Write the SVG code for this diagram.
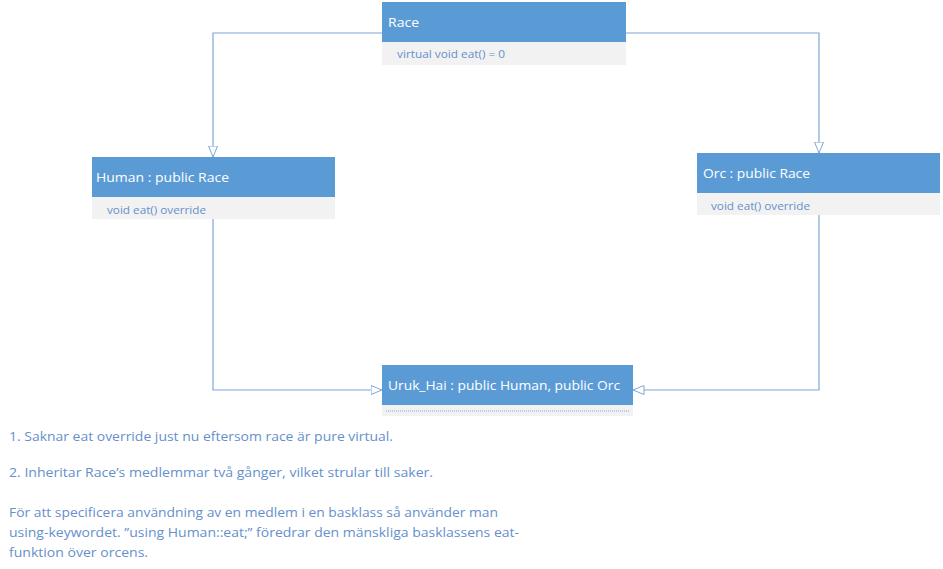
<svg xmlns="http://www.w3.org/2000/svg" width="943" height="569" viewBox="0 0 943 569">
<style>
.hdr{fill:#5b9bd5}
.body{fill:#f2f2f2}
.ht{font-family:"Open Sans","Noto Sans",sans-serif;font-size:13.5px;fill:#ffffff}
.bt{font-family:"Open Sans","Noto Sans",sans-serif;font-size:10.5px;fill:#6590cc}
.nt{font-family:"Open Sans","Noto Sans",sans-serif;font-size:13px;fill:#6590cc}
.conn{fill:none;stroke:#7fa6d8;stroke-width:1.2}
</style>
<defs>
<marker id="tri" viewBox="0 0 12 10" refX="11.5" refY="5" markerWidth="12" markerHeight="10" markerUnits="userSpaceOnUse" orient="auto">
<path d="M0.5,0.5 L11.5,5 L0.5,9.5 Z" fill="#ffffff" stroke="#7fa6d8" stroke-width="1"/>
</marker>
</defs>
<rect width="943" height="569" fill="#ffffff"/>
<g id="connectors">
<path class="conn" d="M382,33 H213 V157" marker-end="url(#tri)"/>
<path class="conn" d="M626,33 H819 V153" marker-end="url(#tri)"/>
<path class="conn" d="M213,219 V390 H382" marker-end="url(#tri)"/>
<path class="conn" d="M819,215 V390 H633" marker-end="url(#tri)"/>
</g>
<g id="race">
<rect class="hdr" x="382" y="2" width="244" height="40"/>
<rect class="body" x="382" y="42" width="244" height="23"/>
<text class="ht" x="388" y="27" textLength="31" lengthAdjust="spacingAndGlyphs">Race</text>
<text class="bt" x="397" y="58" textLength="108" lengthAdjust="spacingAndGlyphs">virtual void eat() = 0</text>
</g>
<g id="human">
<rect class="hdr" x="92" y="157" width="243" height="40"/>
<rect class="body" x="92" y="197" width="243" height="22"/>
<text class="ht" x="96" y="182" textLength="133" lengthAdjust="spacingAndGlyphs">Human : public Race</text>
<text class="bt" x="107" y="214" textLength="99" lengthAdjust="spacingAndGlyphs">void eat() override</text>
</g>
<g id="orc">
<rect class="hdr" x="697" y="153" width="243" height="40"/>
<rect class="body" x="697" y="193" width="243" height="22"/>
<text class="ht" x="703" y="178" textLength="107" lengthAdjust="spacingAndGlyphs">Orc : public Race</text>
<text class="bt" x="711" y="210" textLength="99" lengthAdjust="spacingAndGlyphs">void eat() override</text>
</g>
<g id="uruk_hai">
<rect class="hdr" x="382" y="365" width="251" height="40"/>
<rect class="body" x="382" y="405" width="251" height="11"/>
<line x1="386" y1="411" x2="630" y2="411" stroke="#7fa6d8" stroke-width="1" stroke-dasharray="1,1"/>
<text class="ht" x="388" y="390" textLength="232" lengthAdjust="spacingAndGlyphs">Uruk_Hai : public Human, public Orc</text>
</g>
<g id="notes">
<text class="nt" x="9" y="441" textLength="384" lengthAdjust="spacingAndGlyphs">1. Saknar eat override just nu eftersom race är pure virtual.</text>
<text class="nt" x="9" y="477" textLength="424" lengthAdjust="spacingAndGlyphs">2. Inheritar Race’s medlemmar två gånger, vilket strular till saker.</text>
<text class="nt" x="9" y="517" textLength="489" lengthAdjust="spacingAndGlyphs">För att specificera användning av en medlem i en basklass så använder man</text>
<text class="nt" x="9" y="537" textLength="510" lengthAdjust="spacingAndGlyphs">using-keywordet. ”using Human::eat;” föredrar den mänskliga basklassens eat-</text>
<text class="nt" x="9" y="557" textLength="139" lengthAdjust="spacingAndGlyphs">funktion över orcens.</text>
</g>
</svg>
